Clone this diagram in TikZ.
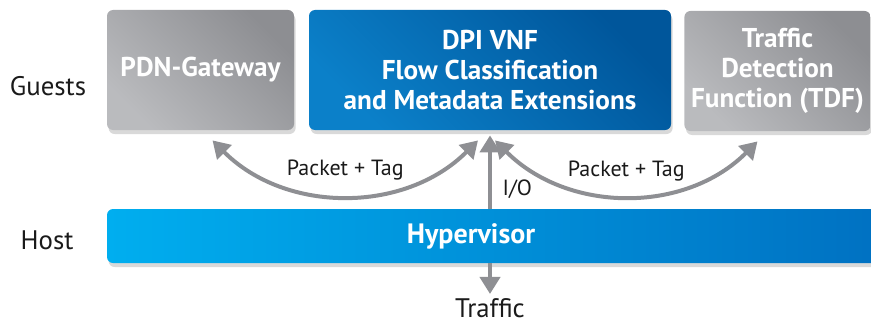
\documentclass[tikz,border=0pt]{standalone}
\usepackage{fontspec}
\setmainfont{PT Sans}
\usetikzlibrary{arrows.meta,shadows,calc}
\definecolor{grayhi}{HTML}{BABBBE}
\definecolor{graylo}{HTML}{8D8E92}
\definecolor{bluehi}{HTML}{0B80C9}
\definecolor{bluelo}{HTML}{00569B}
\definecolor{cyanhi}{HTML}{00AEEF}
\definecolor{cyanlo}{HTML}{0071C2}
\definecolor{arrowgray}{HTML}{8E8F93}
\definecolor{labelink}{HTML}{1A1A1A}
\begin{document}
\begin{tikzpicture}[x=0.5pt,y=-0.5pt,
	boxtext/.style={align=center, text=white, font=\fontsize{13.6}{15}\selectfont\bfseries},
	box/.style={boxtext, rounded corners=3pt, minimum height=60pt,
		drop shadow={shadow xshift=0.8pt, shadow yshift=-2pt, opacity=0.3}},
	guestbox/.style={box, left color=grayhi, right color=graylo, shading angle=135},
	vnfbox/.style={box, left color=bluehi, right color=bluelo, shading angle=135},
	lbl/.style={text=labelink, font=\fontsize{13.4}{15}\selectfont},
	taglbl/.style={text=labelink, font=\fontsize{11}{13}\selectfont},
	flow/.style={arrowgray, line width=2pt, -{Triangle[length=8.5pt,width=10pt]}},
	twoway/.style={arrowgray, line width=2pt, {Triangle[length=8.5pt,width=10pt]}-{Triangle[length=8.5pt,width=10pt]}}]
	\useasboundingbox (0,0) rectangle (871,326);
	% guests
	\node [guestbox, minimum width=93.5pt] (pdn) at (200.5,70) {PDN-Gateway};
	\node [vnfbox, minimum width=181pt] (dpi) at (490,70) {DPI VNF\\Flow Classification\\and Metadata Extensions};
	\node [guestbox, minimum width=91.5pt] (tdf) at (777.5,71) {Traffic\\Detection\\Function (TDF)};
	% host
	\node [box, minimum width=386.5pt, minimum height=27pt, left color=cyanhi, right color=cyanlo] (hyp) at (493.5,236) {};
	\node [boxtext, font=\fontsize{14}{16}\selectfont\bfseries] (hyplbl) at (471,236) {Hypervisor};
	% side labels
	\node [lbl] (guests) at (48,86) {Guests};
	\node [lbl] (host) at (47,240) {Host};
	\node [lbl, inner sep=1pt] (traffic) at (490,308) {Traffic};
	% arrows
	\coordinate (pdntip) at ($(pdn.south)+(12,10)$);
	\coordinate (dpileft) at ($(dpi.south)+(-12,10)$);
	\coordinate (dpiright) at ($(dpi.south)+(5,10)$);
	\coordinate (tdftip) at ($(tdf.south)+(-20,10)$);
	\draw [twoway] (pdntip) to [out=-45, in=-135] node [taglbl, pos=0.5, above=3pt] (tagl) {Packet + Tag} (dpileft);
	\draw [twoway] (dpiright) to [out=-45, in=-135] node [taglbl, pos=0.5, above=3pt] (tagr) {Packet + Tag} (tdftip);
	\draw [flow, shorten >=2.5pt] (hyp.north -| dpi.south) -- (dpi.south) node [taglbl, pos=0.25, right=2pt] (io) {I/O};
	\draw [flow] (hyp.south -| dpi.south) -- ($(traffic.north)+(0,-2)$);
\end{tikzpicture}
\end{document}
